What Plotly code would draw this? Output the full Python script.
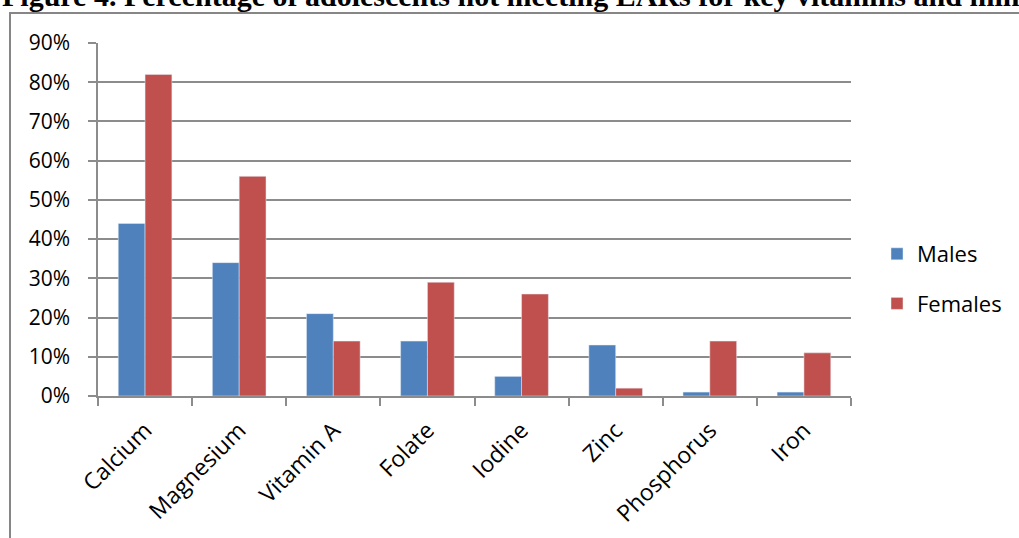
import plotly.graph_objects as go

# Nutrients and share (%) of adolescents below the Estimated Average Requirement
nutrients = ["Calcium", "Magnesium", "Vitamin A", "Folate", "Iodine", "Zinc", "Phosphorus", "Iron"]
males = [44, 34, 21, 14, 5, 13, 1, 1]
females = [82, 56, 14, 29, 26, 2, 14, 11]
y_ticks = [0, 10, 20, 30, 40, 50, 60, 70, 80, 90]
y_labels = [f"{v}%" for v in y_ticks]

title_text = "Figure 4. Percentage of adolescents not meeting EARs for key vitamins and minerals"

GRID = "#8c8c8c"
FONT = "Open Sans"

fig = go.Figure()
fig.add_trace(go.Bar(x=nutrients, y=males, name="Males", marker_color="#4F81BD",
                     legendgroup="m"))
fig.add_trace(go.Bar(x=nutrients, y=females, name="Females", marker_color="#C0504D",
                     legendgroup="f"))

W, H = 1019, 538
L, R, T, B = 98, 168, 43, 142
pw, ph = W - L - R, H - T - B


def px_x(px):
    return (px - L) / pw


def px_y(py):
    return (H - B - py) / ph


fig.update_layout(
    width=W, height=H,
    margin=dict(l=L, r=R, t=T, b=B, autoexpand=False),
    paper_bgcolor="white", plot_bgcolor="white",
    barmode="group", bargap=0.43, bargroupgap=0,
    font=dict(family=FONT, color="black", size=20),
    showlegend=True,
    legend=dict(x=px_x(877), y=px_y(279), xanchor="left", yanchor="middle",
                font=dict(size=22, family=FONT), tracegroupgap=18,
                bgcolor="rgba(0,0,0,0)"),
    xaxis=dict(
        showline=True, linecolor=GRID, linewidth=1.5, automargin=False,
        ticks="outside", tickson="boundaries", ticklen=8, tickcolor=GRID, tickwidth=1.5,
        tickangle=-45, tickfont=dict(size=23, family=FONT), showgrid=False,
        ticklabelstandoff=10,
    ),
    yaxis=dict(
        range=[0, 90], tickvals=y_ticks, ticktext=y_labels, automargin=False,
        showgrid=True, gridcolor=GRID, gridwidth=1.5,
        showline=True, linecolor=GRID, linewidth=1.5,
        ticks="outside", ticklen=8, tickcolor=GRID, tickwidth=1.5,
        ticklabelstandoff=14, zeroline=False,
        tickfont=dict(size=21, family=FONT),
    ),
    shapes=[dict(type="rect", xref="paper", yref="paper",
                 x0=px_x(10), x1=px_x(1100), y0=px_y(620), y1=px_y(13),
                 line=dict(color="#868686", width=2), fillcolor="rgba(0,0,0,0)", layer="below")],
    annotations=[dict(text="<b>" + title_text + "</b>", xref="paper", yref="paper",
                      x=px_x(0), y=px_y(14), xanchor="left", yanchor="bottom",
                      showarrow=False,
                      font=dict(family="Liberation Serif", size=30, color="black"))],
)

fig.write_html("out.html")
